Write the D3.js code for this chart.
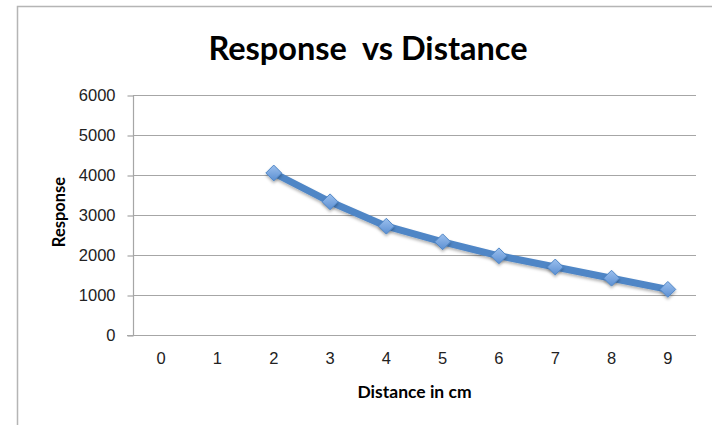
<!DOCTYPE html>
<html>
<head>
<meta charset="utf-8">
<script src="https://cdn.jsdelivr.net/npm/d3@7"></script>
<style>
  html, body { margin: 0; padding: 0; background: #fff; }
  svg { display: block; font-family: Lato, "Open Sans", sans-serif; }
</style>
</head>
<body>
<div id="chart"></div>
<script>
// 数据
var categories = ['0', '1', '2', '3', '4', '5', '6', '7', '8', '9']
var responses = [null, null, 4050, 3330, 2720, 2330, 1980, 1700, 1420, 1140]
var yTicks = [0, 1000, 2000, 3000, 4000, 5000, 6000]

function drawChart() {
  var width = 712
  var height = 425
  var margin = { top: 95, right: 16, bottom: 90, left: 133 }

  var svg = d3.select('#chart').append('svg').attr('width', width).attr('height', height)

  var defs = svg.append('defs')
  var grad = defs.append('linearGradient').attr('id', 'mk').attr('x1', 0).attr('y1', 0).attr('x2', 0).attr('y2', 1)
  grad.append('stop').attr('offset', '0%').attr('stop-color', '#9cc0ee')
  grad.append('stop').attr('offset', '100%').attr('stop-color', '#5b8fd2')
  var sh = defs.append('filter').attr('id', 'sh').attr('x', '-50%').attr('y', '-50%').attr('width', '200%').attr('height', '200%')
  sh.append('feDropShadow').attr('dx', 0).attr('dy', 2).attr('stdDeviation', 1.5).attr('flood-color', '#000').attr('flood-opacity', 0.3)

  // 外框
  svg.append('path')
    .attr('d', 'M17.5,' + height + 'V6.5H' + width)
    .attr('fill', 'none').attr('stroke', '#b5b5b5').attr('stroke-width', 1.5)

  var x = d3.scaleBand().domain(categories).range([margin.left, width - margin.right])
  var y = d3.scaleLinear().domain([0, 6000]).range([height - margin.bottom, margin.top])

  // 网格
  svg.append('g').selectAll('line').data(yTicks.slice(1)).enter().append('line')
    .attr('x1', margin.left).attr('x2', width - margin.right)
    .attr('y1', function(d) { return Math.round(y(d)) + 0.5 })
    .attr('y2', function(d) { return Math.round(y(d)) + 0.5 })
    .attr('stroke', '#a6a6a6').attr('stroke-width', 1.2)

  // y轴
  var axisLeft = d3.axisLeft(y).tickValues(yTicks).tickFormat(d3.format('d')).tickSize(6).tickPadding(12)
  var gy = svg.append('g').attr('transform', 'translate(' + (margin.left + 0.5) + ', 0.5)').call(axisLeft)
  gy.selectAll('path, line').attr('stroke', '#a6a6a6').attr('stroke-width', 1.2)
  gy.select('.domain').attr('d', 'M0,' + y(6000) + 'V' + y(0))
  gy.selectAll('text').attr('fill', '#222').attr('font-size', 16.5)

  // x轴
  var axisBottom = d3.axisBottom(x).tickSize(0).tickPadding(17)
  var gx = svg.append('g').attr('transform', 'translate(0, ' + (Math.round(y(0)) + 0.5) + ')').call(axisBottom)
  gx.select('.domain').attr('stroke', '#a6a6a6').attr('stroke-width', 1.2)
    .attr('d', 'M' + (margin.left - 6) + ',0H' + (width - margin.right))
  gx.selectAll('text').attr('fill', '#222').attr('font-size', 16.5)

  // 折线
  var pts = categories.map(function(c, i) { return { c: c, v: responses[i] } })
    .filter(function(d) { return d.v != null })

  var line = d3.line()
    .x(function(d) { return x(d.c) + x.bandwidth() / 2 })
    .y(function(d) { return y(d.v) })

  svg.append('path').datum(pts).attr('d', line)
    .attr('fill', 'none').attr('stroke', '#4f86c6').attr('stroke-width', 7)
    .attr('stroke-linejoin', 'round').attr('filter', 'url(#sh)')

  var diamond = d3.symbol().type(d3.symbolDiamond2).size(160)
  svg.append('g').selectAll('path').data(pts).enter().append('path')
    .attr('d', diamond)
    .attr('transform', function(d) { return 'translate(' + (x(d.c) + x.bandwidth() / 2) + ',' + y(d.v) + ')' })
    .attr('fill', 'url(#mk)').attr('stroke', '#4f86c6').attr('stroke-width', 1)
    .attr('filter', 'url(#sh)')

  // 标题
  svg.append('text').text('Response\u00a0\u00a0vs Distance')
    .attr('x', 368).attr('y', 60).attr('text-anchor', 'middle')
    .attr('font-size', 32.5).attr('font-weight', 'bold').attr('fill', '#000')

  svg.append('text').text('Distance in cm')
    .attr('x', (margin.left + width - margin.right) / 2).attr('y', 398).attr('text-anchor', 'middle')
    .attr('font-size', 17.5).attr('font-weight', 'bold').attr('fill', '#000')

  svg.append('text').text('Response')
    .attr('transform', 'translate(65, 212) rotate(-90)').attr('text-anchor', 'middle')
    .attr('font-size', 16.5).attr('font-weight', 'bold').attr('fill', '#000')
}

drawChart()
</script>
</body>
</html>
